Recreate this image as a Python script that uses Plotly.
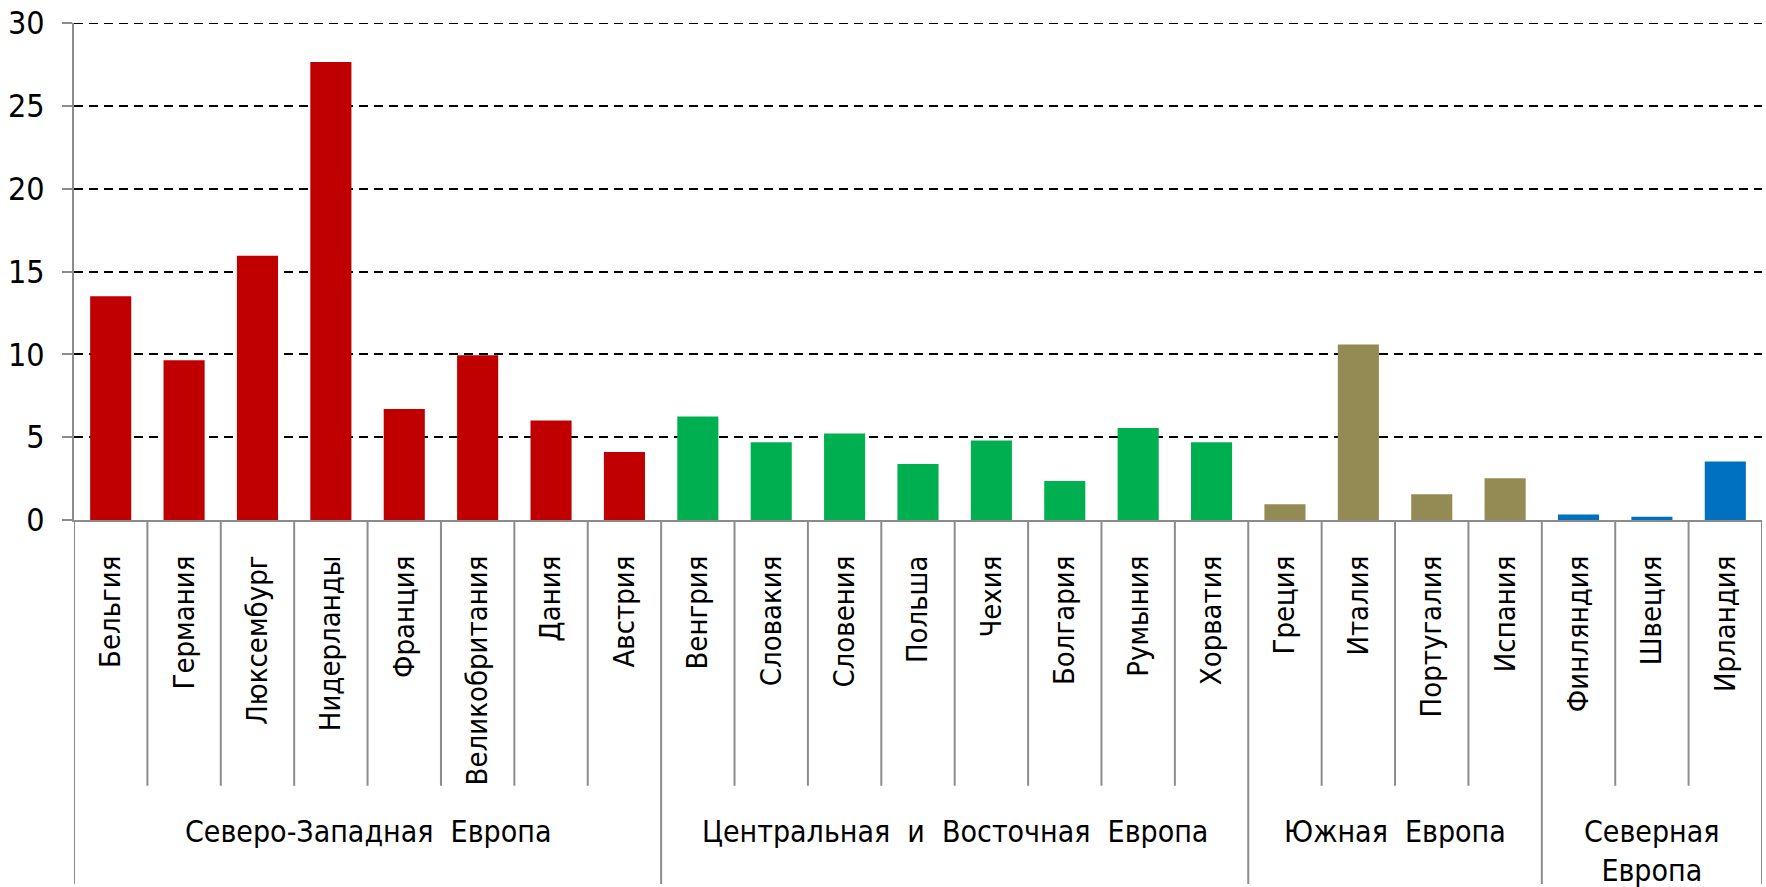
import plotly.graph_objects as go

countries = ["Бельгия", "Германия", "Люксембург", "Нидерланды", "Франция",
             "Великобритания", "Дания", "Австрия",
             "Венгрия", "Словакия", "Словения", "Польша", "Чехия", "Болгария",
             "Румыния", "Хорватия",
             "Греция", "Италия", "Португалия", "Испания",
             "Финляндия", "Швеция", "Ирландия"]
values = [13.5, 9.65, 15.95, 27.65, 6.7, 9.95, 6.0, 4.1,
          6.25, 4.7, 5.22, 3.38, 4.8, 2.35, 5.55, 4.7,
          0.95, 10.6, 1.55, 2.52,
          0.33, 0.2, 3.53]
group_names = ["Северо-Западная\u00a0 Европа",
               "Центральная\u00a0 и\u00a0 Восточная\u00a0 Европа",
               "Южная\u00a0 Европа",
               "Северная<br>Европа"]
group_sizes = [8, 8, 4, 3]
group_colors = ["#C00000", "#00B050", "#948A54", "#0070C0"]
y_ticks = [0, 5, 10, 15, 20, 25, 30]

W, H = 1766, 887
L, R, T, B = 74, 4, 19, 367
plot_h = H - T - B

def py(px):
    # pixel y (from top) -> paper coordinate
    return (H - B - px) / plot_h

bar_colors = []
for size, col in zip(group_sizes, group_colors):
    bar_colors += [col] * size

x_idx = list(range(len(countries)))

FONT = "Tahoma, 'DejaVu Sans Condensed', 'DejaVu Sans', sans-serif"
AXIS_GRAY = "#8C8C8C"
GRID_DASH = "9px,6px"

fig = go.Figure()
fig.add_trace(go.Bar(x=x_idx, y=values, marker=dict(color=bar_colors, line=dict(width=0)),
                     width=0.56, showlegend=False, hoverinfo="skip"))

shapes = []
# top gridline (plotly omits the gridline on the range edge)
shapes.append(dict(type="line", xref="paper", yref="y", x0=0, x1=1,
                   y0=y_ticks[-1], y1=y_ticks[-1],
                   line=dict(color="black", width=2, dash=GRID_DASH), layer="below"))
# separators between individual countries / groups
n = len(countries)
group_bounds = [0]
for s in group_sizes:
    group_bounds.append(group_bounds[-1] + s)
for k in range(n + 1):
    is_group = k in group_bounds
    shapes.append(dict(type="line", xref="x", yref="paper",
                       x0=k - 0.5, x1=k - 0.5, y0=0,
                       y1=py(H) if is_group else py(788),
                       line=dict(color=AXIS_GRAY, width=2), layer="above"))

annotations = []
for gi, name in enumerate(group_names):
    center = (group_bounds[gi] + group_bounds[gi + 1] - 1) / 2
    annotations.append(dict(x=center, xref="x", y=py(814), yref="paper",
                            text=name, showarrow=False, xanchor="center", yanchor="top",
                            font=dict(family=FONT, size=30, color="black")))

fig.update_layout(
    width=W, height=H,
    margin=dict(l=L, r=R, t=T, b=B, pad=0),
    plot_bgcolor="white", paper_bgcolor="white",
    shapes=shapes, annotations=annotations,
    bargap=0.44,
    xaxis=dict(range=[-0.5, n - 0.5], tickmode="array", tickvals=x_idx, ticktext=countries,
               tickangle=-90, ticks="", showgrid=False, zeroline=False,
               showline=True, linecolor=AXIS_GRAY, linewidth=2,
               tickfont=dict(family=FONT, size=29, color="black"),
               ticklabelstandoff=22, fixedrange=True),
    yaxis=dict(range=[0, 30], tickmode="array", tickvals=y_ticks,
               showgrid=True, gridcolor="black", gridwidth=2, griddash=GRID_DASH,
               zeroline=False, showline=True, linecolor=AXIS_GRAY, linewidth=2,
               ticks="outside", ticklen=10, tickwidth=2, tickcolor=AXIS_GRAY,
               tickfont=dict(family=FONT, size=32, color="black"),
               ticklabelstandoff=11, fixedrange=True),
)

fig.write_html("out.html", config={"displayModeBar": False},
               post_script="document.body.style.margin='0';document.body.style.overflow='hidden';")
